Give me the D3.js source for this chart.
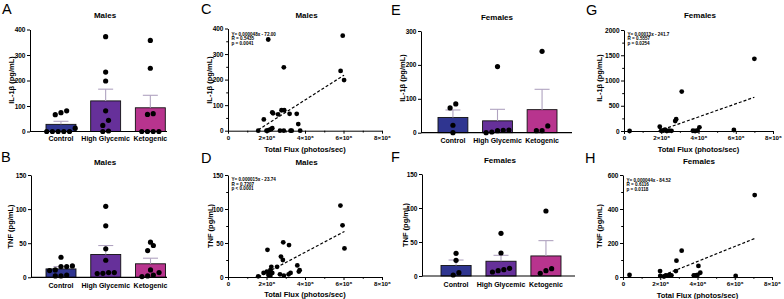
<!DOCTYPE html>
<html>
<head>
<meta charset="utf-8">
<script src="https://cdn.jsdelivr.net/npm/d3@7"></script>
<style>
  body { margin: 0; background: #fff; }
  svg { display: block; font-family: "Liberation Sans", Arial, sans-serif; }
</style>
</head>
<body>
<svg id="fig" width="784" height="299"></svg>
<script>
// ---- data ----
const groups = ["Control", "High Glycemic", "Ketogenic"];
const barColors = ["#2f3590", "#66309a", "#b8348e"];

// A: males IL-1b
const maleIL1bMean = [28, 120, 93];
const maleIL1bSem = [12, 46, 49];
const maleIL1bDots = [
  [81, 74, 66, 13, 0, 0, 0, 0, 0],
  [372, 233, 198, 81, 44, 24, 2, 0],
  [357, 248, 70, 67, 0, 0, 0, 0]
];
// B: males TNF
const maleTnfMean = [12.3, 33.5, 19.8];
const maleTnfSem = [3.4, 13.1, 8.2];
const maleTnfDots = [
  [29.4, 16.7, 15.7, 15.7, 10.8, 9.8, 3.4, 2, 2],
  [104, 75.5, 41.7, 25, 6.9, 6.9, 5.9, 5.4],
  [51.5, 46.6, 39.2, 10.8, 6.9, 3.4, 2, 1]
];
// E: females IL-1b
const femaleIL1bMean = [45, 35, 68];
const femaleIL1bSem = [22, 34, 60];
const femaleIL1bDots = [
  [85, 73, 22, 0],
  [195, 8, 7, 6, 2, 0],
  [240, 20, 6, 6]
];
// F: females TNF
const femaleTnfMean = [15.5, 21.7, 29.5];
const femaleTnfSem = [8, 8.7, 22.5];
const femaleTnfDots = [
  [33.3, 23, 4.9, 1.5],
  [62.7, 33.8, 11.3, 9.3, 7.8, 5.9],
  [95.6, 10.8, 7.8, 3.9]
];

// C: males IL-1b vs total flux
const maleFluxIL1b = [
  [2.09e6, 357], [5.96e6, 372], [2.9e6, 248], [5.85e6, 234], [6.03e6, 198],
  [1.86e6, 44], [2.3e6, 72], [2.34e6, 68], [2.6e6, 64], [2.78e6, 80],
  [2.92e6, 80], [3.2e6, 66], [3.57e6, 66], [3.65e6, 26], [1.57e6, 0],
  [2.05e6, 0], [2.14e6, 3], [2.24e6, 6], [2.3e6, 10], [2.7e6, 0],
  [2.9e6, 0], [3.25e6, 0], [3.31e6, 0], [3.75e6, 0], [2.0e6, 0]
];
const maleIL1bFit = [0.000048, -72.00];
const maleIL1bStats = ["Y= 0.000048x - 72.00", "R = 0.5435", "p = 0.0041"];

// D: males TNF vs total flux
const maleFluxTnf = [
  [5.84e6, 105], [5.95e6, 76], [6.05e6, 42], [2.05e6, 40], [2.87e6, 51],
  [3.17e6, 47], [2.75e6, 30], [2.85e6, 25], [2.55e6, 15], [3.6e6, 17],
  [3.68e6, 8], [3.72e6, 10], [1.57e6, 1], [1.85e6, 6], [2.02e6, 8],
  [2.1e6, 3], [2.15e6, 5], [2.2e6, 10], [2.25e6, 15], [2.3e6, 6],
  [2.7e6, 4], [2.9e6, 2], [3.15e6, 4], [3.25e6, 6], [2.2e6, 2]
];
const maleTnfFit = [0.000015, -23.74];
const maleTnfStats = ["Y= 0.000015x - 23.74", "R = 0.7207", "p < 0.0001"];

// G: females IL-1b vs total flux
const femaleFluxIL1b = [
  [0.3e6, 0], [1.92e6, 84], [2.0e6, 5], [2.12e6, 10], [2.2e6, 25],
  [2.3e6, 0], [2.42e6, 8], [2.55e6, 3], [2.75e6, 196], [2.8e6, 235],
  [3.1e6, 780], [3.7e6, 5], [3.82e6, 0], [3.95e6, 10], [4.05e6, 72],
  [5.9e6, 20], [7.0e6, 1430]
];
const femaleIL1bFit = [0.00013, -241.7];
const femaleIL1bStats = ["Y= 0.00013x - 241.7", "R = 0.5557", "p = 0.0254"];

// H: females TNF vs total flux
const femaleFluxTnf = [
  [0.35e6, 12], [1.99e6, 35], [2.0e6, 6], [2.2e6, 3], [2.3e6, 10],
  [2.4e6, 8], [2.5e6, 12], [2.6e6, 10], [2.84e6, 35], [2.87e6, 96],
  [3.15e6, 155], [3.8e6, 10], [3.9e6, 10], [4.0e6, 12], [4.05e6, 65],
  [4.15e6, 25], [6.05e6, 6], [7.07e6, 482]
];
const femaleTnfFit = [0.000044, -84.52];
const femaleTnfStats = ["Y= 0.000044x - 84.52", "R = 0.6116", "p = 0.0118"];

// tick values
const fluxTicks = [0, 2e6, 4e6, 6e6, 8e6];
const fluxMinor = [1e6, 3e6, 5e6, 7e6];
const il400Ticks = [0, 100, 200, 300, 400];
const il300Ticks = [0, 100, 200, 300];
const il2000Ticks = [0, 500, 1000, 1500, 2000];
const tnf150Ticks = [0, 50, 100, 150];
const tnf600Ticks = [0, 200, 400, 600];

const svg = d3.select("#fig");
const ilLabel = "IL-1\u03b2 (pg/mL)";
const tnfLabel = "TNF (pg/mL)";
const fluxLabel = "Total Flux (photos/sec)";
const plain = d3.format("d");

function styleAxis(g, fs) {
  g.select(".domain").attr("stroke", "#000").attr("stroke-width", 1);
  g.selectAll(".tick line").attr("stroke", "#000").attr("stroke-width", 1);
  g.selectAll(".tick text")
    .attr("font-size", fs)
    .attr("font-weight", "bold")
    .attr("fill", "#000")
    .attr("font-family", "Liberation Sans, Arial, sans-serif");
}

function panelText(p) {
  // panel letter
  svg.append("text")
    .attr("x", p.letterX).attr("y", p.letterY)
    .attr("font-size", 14.5)
    .text(p.letter);
  // title
  svg.append("text")
    .attr("x", p.titleX).attr("y", p.titleY)
    .attr("text-anchor", "middle")
    .attr("font-size", 8)
    .attr("font-weight", "bold")
    .text(p.title);
  // y label
  svg.append("text")
    .attr("transform", `translate(${p.ylabX},${p.ylabY}) rotate(-90)`)
    .attr("text-anchor", "middle")
    .attr("dy", "0.35em")
    .attr("font-size", 7.5)
    .attr("font-weight", "bold")
    .text(p.ylabel);
}

// GraphPad-like scatter of dots in a column: rows of overlapping points spread sideways
function swarm(vals, y, cx, r) {
  let pts = vals.map(v => ({ v: v, py: y(v) })).sort((a, b) => b.py - a.py);
  let rows = [];
  pts.forEach(p => {
    let last = rows[rows.length - 1];
    if (last && Math.abs(p.py - last[0].py) < 2 * r) last.push(p);
    else rows.push([p]);
  });
  let s = 2 * r + 0.5;
  rows.forEach(row => {
    row.forEach((p, i) => { p.px = cx + (i - (row.length - 1) / 2) * s; });
  });
  return pts;
}

function barPanel(p) {
  let y = d3.scaleLinear().domain(p.yDomain).range(p.yRange);
  let x = d3.scaleBand().domain(groups).range(p.band).paddingInner(0.33).paddingOuter(0);
  let g = svg.append("g");

  // bars
  g.selectAll("rect.bar")
    .data(groups)
    .enter()
    .append("rect")
    .attr("x", d => x(d))
    .attr("width", x.bandwidth())
    .attr("y", (d, i) => y(p.mean[i]))
    .attr("height", (d, i) => y(0) - y(p.mean[i]))
    .attr("fill", (d, i) => barColors[i])
    .attr("stroke", "#111")
    .attr("stroke-width", 0.9);

  // error bars (upper SEM only)
  groups.forEach((d, i) => {
    let cx = x(d) + x.bandwidth() / 2;
    let top = y(p.mean[i] + p.sem[i]);
    g.append("line")
      .attr("x1", cx).attr("x2", cx)
      .attr("y1", y(p.mean[i])).attr("y2", top)
      .attr("stroke", "#b0a3c0").attr("stroke-width", 1.1);
    g.append("line")
      .attr("x1", cx - 7.5).attr("x2", cx + 7.5)
      .attr("y1", top).attr("y2", top)
      .attr("stroke", "#b0a3c0").attr("stroke-width", 1.1);
  });

  // dots
  groups.forEach((d, i) => {
    let cx = x(d) + x.bandwidth() / 2;
    let pts = swarm(p.dots[i], y, cx, 2.6);
    g.selectAll(null)
      .data(pts)
      .enter()
      .append("circle")
      .attr("cx", q => q.px)
      .attr("cy", q => q.py)
      .attr("r", 2.6)
      .attr("fill", "#000");
  });

  // y axis
  g.append("g")
    .attr("transform", `translate(${p.axisX},0)`)
    .call(d3.axisLeft(y).tickValues(p.ticks).tickFormat(plain).tickSize(3).tickSizeOuter(0).tickPadding(1.5))
    .call(a => styleAxis(a, 6.5));

  // x axis line
  g.append("line")
    .attr("x1", p.axisX).attr("x2", p.axisEnd)
    .attr("y1", y(0)).attr("y2", y(0))
    .attr("stroke", "#000").attr("stroke-width", 1.2);

  // category labels
  g.selectAll("text.cat")
    .data(groups)
    .enter()
    .append("text")
    .attr("x", d => x(d) + x.bandwidth() / 2)
    .attr("y", p.catY)
    .attr("text-anchor", "middle")
    .attr("font-size", 7)
    .attr("font-weight", "bold")
    .text(d => d);

  panelText(p);
}

function fluxFormat(d) {
  return d === 0 ? "0" : (d / 1e6) + "\u00d710\u2076";
}

function scatterPanel(p) {
  let x = d3.scaleLinear().domain([0, 8e6]).range(p.xRange);
  let y = d3.scaleLinear().domain(p.yDomain).range(p.yRange);
  let g = svg.append("g");

  // fitted line, clipped to y >= 0, over the range of the data
  let m = p.fit[0], b = p.fit[1];
  let xs = d3.extent(p.data, d => d[0]);
  let x0 = Math.max(xs[0], -b / m);
  g.append("line")
    .attr("x1", x(x0)).attr("y1", y(m * x0 + b))
    .attr("x2", x(xs[1])).attr("y2", y(m * xs[1] + b))
    .attr("stroke", "#000")
    .attr("stroke-width", 1.2)
    .attr("stroke-dasharray", "3,2");

  g.selectAll("circle")
    .data(p.data)
    .enter()
    .append("circle")
    .attr("cx", d => x(d[0]))
    .attr("cy", d => y(d[1]))
    .attr("r", 2.4)
    .attr("fill", "#000");

  // axes
  g.append("g")
    .attr("transform", `translate(${p.xRange[0]},0)`)
    .call(d3.axisLeft(y).tickValues(p.ticks).tickFormat(plain).tickSize(3).tickSizeOuter(0).tickPadding(1.5))
    .call(a => styleAxis(a, 6.5));
  g.append("g")
    .attr("transform", `translate(${p.xRange[0]},0)`)
    .call(d3.axisLeft(y).tickValues(p.minor).tickSize(1.8).tickSizeOuter(0).tickFormat(""))
    .call(a => { a.select(".domain").remove(); a.selectAll("line").attr("stroke", "#000"); });

  g.append("g")
    .attr("transform", `translate(0,${p.yRange[0]})`)
    .call(d3.axisBottom(x).tickValues(fluxTicks).tickFormat(fluxFormat).tickSize(3).tickSizeOuter(0).tickPadding(2))
    .call(a => styleAxis(a, 6.2));
  g.append("g")
    .attr("transform", `translate(0,${p.yRange[0]})`)
    .call(d3.axisBottom(x).tickValues(fluxMinor).tickSize(1.8).tickSizeOuter(0).tickFormat(""))
    .call(a => { a.select(".domain").remove(); a.selectAll("line").attr("stroke", "#000"); });

  // fit statistics
  p.stats.forEach((s, i) => {
    g.append("text")
      .attr("x", p.xRange[0] + 3.5)
      .attr("y", p.statY + i * 4.7)
      .attr("font-size", 4.6)
      .attr("font-weight", "bold")
      .text(s);
  });

  // x label
  g.append("text")
    .attr("x", (p.xRange[0] + p.xRange[1]) / 2)
    .attr("y", p.xlabY)
    .attr("text-anchor", "middle")
    .attr("font-size", 7.5)
    .attr("font-weight", "bold")
    .text(fluxLabel);

  panelText(p);
}

// ---- panels ----
barPanel({
  letter: "A", letterX: 2, letterY: 13.5, title: "Males", titleX: 105, titleY: 18.3,
  ylabel: ilLabel, ylabX: 11, ylabY: 80,
  mean: maleIL1bMean, sem: maleIL1bSem, dots: maleIL1bDots,
  yDomain: [0, 400], yRange: [131.5, 29.5], ticks: il400Ticks,
  axisX: 30, axisEnd: 167, band: [46, 165.3], catY: 141
});
barPanel({
  letter: "B", letterX: 1, letterY: 161.7, title: "Males", titleX: 105, titleY: 165,
  ylabel: tnfLabel, ylabX: 10, ylabY: 226.5,
  mean: maleTnfMean, sem: maleTnfSem, dots: maleTnfDots,
  yDomain: [0, 150], yRange: [277.3, 175], ticks: tnf150Ticks,
  axisX: 31, axisEnd: 167, band: [46, 165.5], catY: 288
});
barPanel({
  letter: "E", letterX: 391, letterY: 15, title: "Females", titleX: 497, titleY: 20,
  ylabel: ilLabel, ylabX: 402, ylabY: 78,
  mean: femaleIL1bMean, sem: femaleIL1bSem, dots: femaleIL1bDots,
  yDomain: [0, 300], yRange: [132.7, 31], ticks: il300Ticks,
  axisX: 421, axisEnd: 572, band: [438, 557], catY: 142.5
});
barPanel({
  letter: "F", letterX: 391, letterY: 161.7, title: "Females", titleX: 500, titleY: 162.7,
  ylabel: tnfLabel, ylabX: 405, ylabY: 225,
  mean: femaleTnfMean, sem: femaleTnfSem, dots: femaleTnfDots,
  yDomain: [0, 150], yRange: [276, 174], ticks: tnf150Ticks,
  axisX: 422, axisEnd: 575, band: [441, 561], catY: 286.7
});

scatterPanel({
  letter: "C", letterX: 201, letterY: 13.5, title: "Males", titleX: 306.5, titleY: 18.3,
  ylabel: ilLabel, ylabX: 209, ylabY: 80,
  data: maleFluxIL1b, fit: maleIL1bFit, stats: maleIL1bStats, statY: 35.5,
  xRange: [228, 382], yDomain: [0, 400], yRange: [130.7, 28.5],
  ticks: il400Ticks, minor: [50, 150, 250, 350], xlabY: 151.5
});
scatterPanel({
  letter: "D", letterX: 201, letterY: 163, title: "Males", titleX: 306.5, titleY: 165.3,
  ylabel: tnfLabel, ylabX: 210, ylabY: 226,
  data: maleFluxTnf, fit: maleTnfFit, stats: maleTnfStats, statY: 181,
  xRange: [228, 382], yDomain: [0, 150], yRange: [277, 175],
  ticks: tnf150Ticks, minor: [25, 75, 125], xlabY: 297
});
scatterPanel({
  letter: "G", letterX: 586, letterY: 15, title: "Females", titleX: 700, titleY: 18.3,
  ylabel: ilLabel, ylabX: 599, ylabY: 78,
  data: femaleFluxIL1b, fit: femaleIL1bFit, stats: femaleIL1bStats, statY: 35.5,
  xRange: [624, 773], yDomain: [0, 2000], yRange: [131, 30],
  ticks: il2000Ticks, minor: [250, 750, 1250, 1750], xlabY: 151.5
});
scatterPanel({
  letter: "H", letterX: 585, letterY: 163, title: "Females", titleX: 699, titleY: 164,
  ylabel: tnfLabel, ylabX: 599, ylabY: 226,
  data: femaleFluxTnf, fit: femaleTnfFit, stats: femaleTnfStats, statY: 181.5,
  xRange: [623, 772], yDomain: [0, 600], yRange: [277, 175],
  ticks: tnf600Ticks, minor: [100, 300, 500], xlabY: 297.5
});
</script>
</body>
</html>
